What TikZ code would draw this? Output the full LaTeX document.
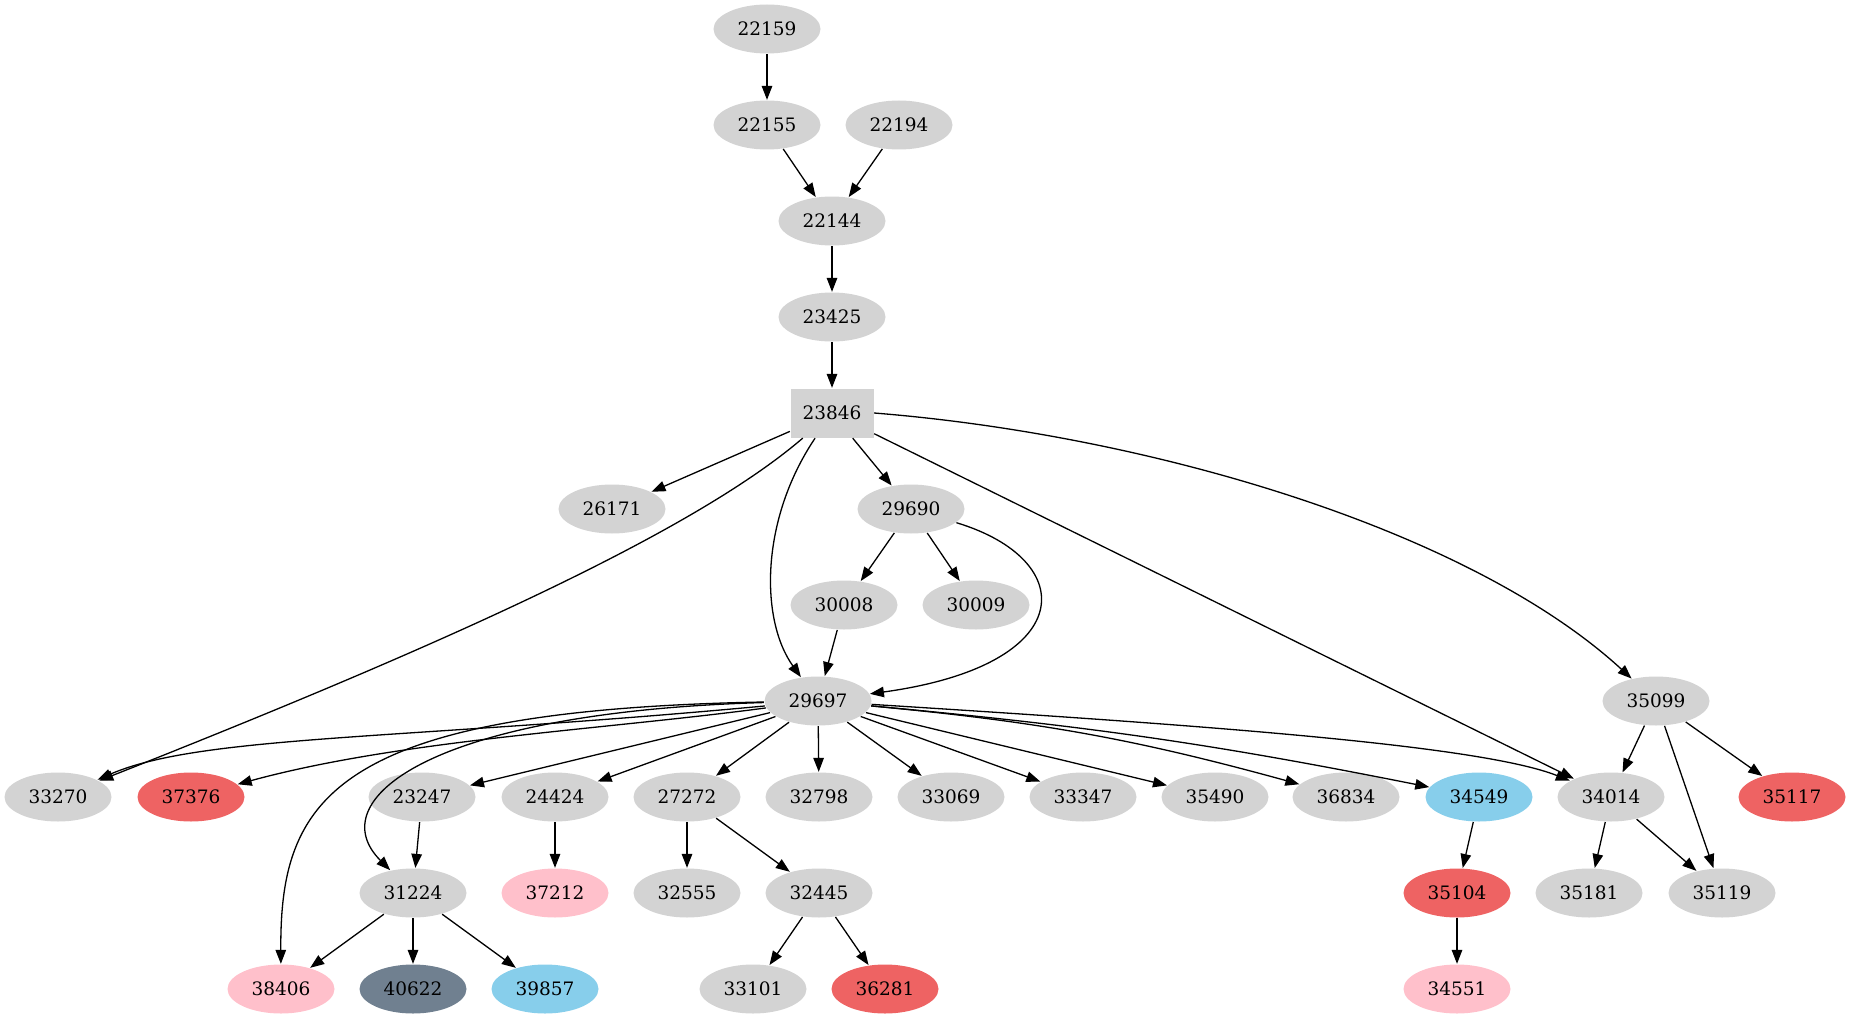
\documentclass[tikz,border=0pt]{standalone}
\usepackage{fontspec}
\setmainfont{DejaVu Serif}
\usetikzlibrary{shapes.geometric, arrows.meta}
\definecolor{lgray}{RGB}{211,211,211}
\definecolor{ired}{RGB}{238,99,99}
\definecolor{lpink}{RGB}{255,192,203}
\definecolor{sky}{RGB}{135,206,235}
\definecolor{slate}{RGB}{112,128,144}

\begin{document}
\begin{tikzpicture}[x=1pt, y=-1pt, line width=1.3pt, >={Triangle[length=14pt,width=10.5pt]},
	nd/.style={ellipse, fill=lgray, minimum width=107pt, minimum height=49pt, inner sep=0pt, font={\fontsize{18.5}{22}\selectfont}},
	rd/.style={nd, fill=ired}, pk/.style={nd, fill=lpink}, sk/.style={nd, fill=sky}, sl/.style={nd, fill=slate},
	bx/.style={rectangle, fill=lgray, minimum width=83pt, minimum height=49pt, inner sep=0pt, font={\fontsize{18.5}{22}\selectfont}}]
	\useasboundingbox (0,0) rectangle (1851,1019);
	
	%top chain
	\node (n22159) at (767, 29) [nd]{22159};
	\node (n22155) at (767, 125) [nd]{22155};
	\node (n22194) at (899, 125) [nd]{22194};
	\node (n22144) at (832, 221) [nd]{22144};
	\node (n23425) at (832, 317) [nd]{23425};
	\node (n23846) at (832, 413) [bx]{23846};
	
	%second level
	\node (n26171) at (612, 509) [nd]{26171};
	\node (n29690) at (911, 509) [nd]{29690};
	\node (n30008) at (844, 605) [nd]{30008};
	\node (n30009) at (976, 605) [nd]{30009};
	\node (n29697) at (818, 701) [nd]{29697};
	\node (n35099) at (1656, 701) [nd]{35099};
	
	%third level
	\node (n33270) at (58, 797) [nd]{33270};
	\node (n37376) at (191, 797) [rd]{37376};
	\node (n23247) at (422, 797) [nd]{23247};
	\node (n24424) at (555, 797) [nd]{24424};
	\node (n27272) at (687, 797) [nd]{27272};
	\node (n36834) at (1346, 797) [nd]{36834};
	\node (n34549) at (1479, 797) [sk]{34549};
	\node (n34014) at (1611, 797) [nd]{34014};
	\node (n35117) at (1792, 797) [rd]{35117};
	
	%lower rows
	\node (n31224) at (413, 893) [nd]{31224};
	\node (n37212) at (555, 893) [pk]{37212};
	\node (n32555) at (687, 893) [nd]{32555};
	\node (n32445) at (819, 893) [nd]{32445};
	\node (n35104) at (1457, 893) [rd]{35104};
	\node (n35181) at (1589, 893) [nd]{35181};
	\node (n35119) at (1722, 893) [nd]{35119};
	\node (n38406) at (281, 989) [pk]{38406};
	\node (n40622) at (413, 989) [sl]{40622};
	\node (n39857) at (545, 989) [sk]{39857};
	\node (n33101) at (753, 989) [nd]{33101};
	\node (n36281) at (885, 989) [rd]{36281};
	\node (n34551) at (1457, 989) [pk]{34551};
	
	%edges
	\draw[->] (n22159) -- (n22155);
	\draw[->] (n22155) -- (n22144);
	\draw[->] (n22194) -- (n22144);
	\draw[->] (n22144) -- (n23425);
	\draw[->] (n23425) -- (n23846);
	
	\draw[->] (n23846) -- (n26171);
	\draw[->] (n23846) -- (n29690);
	\draw[->] (n23846) -- (n34014);
	\draw[->] (n23846) .. controls (760,520) and (760,620) .. (n29697);
	\draw[->] (n23846.east) .. controls (1150,435) and (1470,530) .. (n35099);
	\draw[->] (n23846) .. controls (690,535) and (430,650) .. (n33270);
	\draw[->] (n29690) -- (n30008);
	\draw[->] (n29690) -- (n30009);
	\draw[->] (n30008) -- (n29697);
	\draw[->] (n29690) .. controls (1080,560) and (1080,665) .. (n29697);
	
	\draw[->] (n29697) .. controls (400,740) and (200,735) .. (n33270);
	\draw[->] (n29697) .. controls (600,730) and (400,740) .. (n37376);
	\draw[->] (n29697) .. controls (330,710) and (280,800) .. (n38406);
	\draw[->] (n29697) .. controls (430,712) and (320,800) .. (n31224);
	\draw[->] (n29697) -- (n23247);
	\draw[->] (n29697) -- (n24424);
	\draw[->] (n29697) -- (n27272);
	\foreach \n/\x in {32798/819, 33069/951, 33347/1083, 35490/1215}{
		\node (n\n) at (\x, 797) [nd]{\n};
		\draw[->] (n29697) -- (n\n);
	}
	\draw[->] (n29697) to[bend left=5] (n36834);
	\draw[->] (n29697) to[bend left=3] (n34549);
	\draw[->] (n29697) .. controls (1200,725) and (1480,745) .. (n34014);
	\draw[->] (n35099) -- (n34014);
	\draw[->] (n35099) -- (n35117);
	\draw[->] (n35099) -- (n35119);
	
	\draw[->] (n23247) -- (n31224);
	\draw[->] (n24424) -- (n37212);
	\draw[->] (n27272) -- (n32555);
	\draw[->] (n27272) -- (n32445);
	\draw[->] (n34549) -- (n35104);
	\draw[->] (n34014) -- (n35181);
	\draw[->] (n34014) -- (n35119);
	\draw[->] (n31224) -- (n38406);
	\draw[->] (n31224) -- (n40622);
	\draw[->] (n31224) -- (n39857);
	\draw[->] (n32445) -- (n33101);
	\draw[->] (n32445) -- (n36281);
	\draw[->] (n35104) -- (n34551);
\end{tikzpicture}
\end{document}
